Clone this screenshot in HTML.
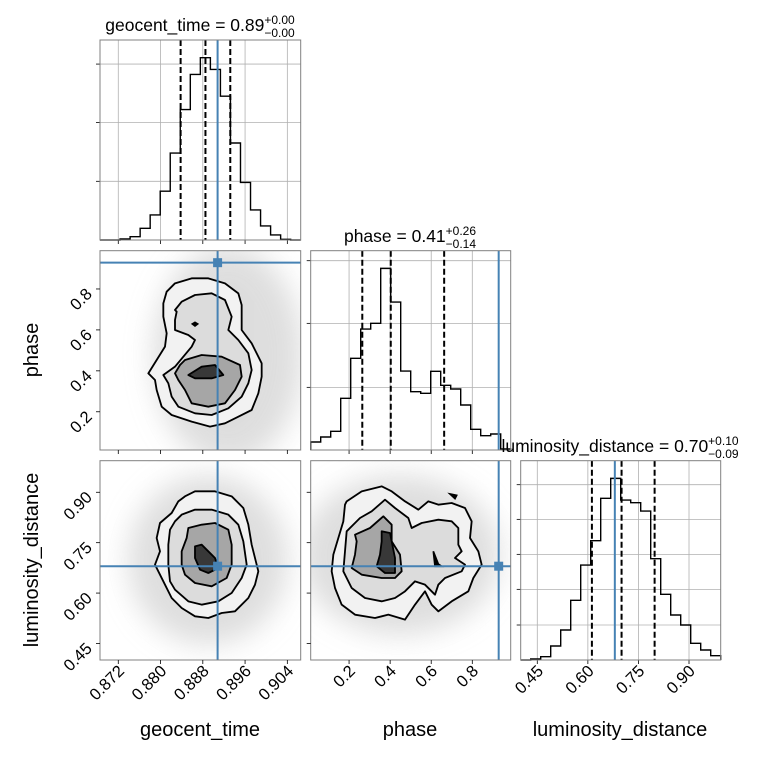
<!DOCTYPE html>
<html><head><meta charset="utf-8"><style>
html,body{margin:0;padding:0;background:#fff;}
svg{display:block;font-family:"Liberation Sans","DejaVu Sans",sans-serif;}
</style></head>
<body>
<svg id="c" width="760" height="760" viewBox="0 0 760 760" xmlns="http://www.w3.org/2000/svg">
<defs>
<filter id="blur" x="-50%" y="-50%" width="200%" height="200%"><feGaussianBlur stdDeviation="14"/></filter>
<clipPath id="clipA"><rect x="100" y="250.7" width="200.7" height="199.3"/></clipPath>
<clipPath id="clipB"><rect x="100" y="460.7" width="200.7" height="199.3"/></clipPath>
<clipPath id="clipC"><rect x="310.7" y="460.7" width="200" height="199.3"/></clipPath>
</defs>
<g id="layer"></g>
</svg>
<script>
// ---- data ----
const geoCounts = [0,0,3,10,35,75,146,260,390,495,545,510,430,290,172,90,42,15,2,0];
const phaseCounts = [24,39,56,155,275,363,380,545,444,237,175,170,236,194,183,135,62,43,48,3];
const lumCounts = [0,3,10,42,90,179,285,358,485,545,480,472,447,304,197,135,105,50,30,13];
const geoTicks = [0.872,0.880,0.888,0.896,0.904];
const phaseTicks = [0.2,0.4,0.6,0.8];
const lumTicks = [0.45,0.60,0.75,0.90];
const geoQuant = [0.8838,0.8885,0.8932];
const phaseQuant = [0.2644,0.403,0.663];
const lumQuant = [0.612,0.700,0.798];
const truths = {geo:0.8908, phase:0.9285, lum:0.680};
const geoHistTicks = [175.5,351,526];
const phaseHistTicks = [188,380,568];
const lumHistTicks = [105,212,317,422,526];

const NS='http://www.w3.org/2000/svg';
const L=document.getElementById('layer');
function el(t,a,p){const e=document.createElementNS(NS,t);for(const k in a)e.setAttribute(k,a[k]);(p||L).appendChild(e);return e;}
const BLUE='#4682b4';
const ranges={geo:[0.86854,0.90653],phase:[0.0132,0.987],lum:[0.4008,0.994]};
const cols={geo:[100,300.7],phase:[310.7,510.7],lum:[520.7,720.7]};
const rows={phase:[250.7,450],lum:[460.7,660]};
const tickSets={geo:geoTicks,phase:phaseTicks,lum:lumTicks};
function sx(v,k){const r=ranges[k],c=cols[k];return c[0]+(v-r[0])/(r[1]-r[0])*(c[1]-c[0]);}
function sy(v,k){const r=ranges[k],w=rows[k];return w[1]-(v-r[0])/(r[1]-r[0])*(w[1]-w[0]);}

function hist(k,counts,top,bottom,hticks,quant,truth,name){
  const x0=cols[k][0],x1=cols[k][1],ymax=598;
  const g=el('g',{});
  
  
  const hy=v=>bottom-v/ymax*(bottom-top);
  tickSets[k].forEach(t=>{const x=sx(t,k);el('line',{x1:x,x2:x,y1:top,y2:bottom,stroke:'#b0b0b0','stroke-width':0.8},g);el('line',{x1:x,x2:x,y1:bottom,y2:bottom+4,stroke:'#000','stroke-width':0.8},g);});
  hticks.forEach(t=>{const y=hy(t);el('line',{x1:x0,x2:x1,y1:y,y2:y,stroke:'#b0b0b0','stroke-width':0.8},g);el('line',{x1:x0-4,x2:x0,y1:y,y2:y,stroke:'#000','stroke-width':0.8},g);});
  const n=counts.length,bw=(x1-x0)/n;
  let d='M'+x0+','+bottom;
  counts.forEach((c,i)=>{const y=hy(c);d+=' L'+(x0+i*bw)+','+y+' L'+(x0+(i+1)*bw)+','+y;});
  d+=' L'+x1+','+bottom;
  const p=el('path',{d:d,fill:'none',stroke:'#000','stroke-width':1.4},g);
  
  
  quant.forEach(q=>{const x=sx(q,k);const ln=el('line',{x1:x,x2:x,y1:top,y2:bottom,stroke:'#000','stroke-width':2,'stroke-dasharray':'6,3'},g);});
  const tx=sx(truth,k);
  const tl=el('line',{x1:tx,x2:tx,y1:top,y2:bottom,stroke:BLUE,'stroke-width':2},g);
  
  
  el('rect',{x:x0,y:top,width:x1-x0,height:bottom-top,fill:'none',stroke:'#808080','stroke-width':1},g);
}
hist('geo',geoCounts,40,240,geoHistTicks,geoQuant,truths.geo,'geocent-time-histogram');
hist('phase',phaseCounts,250.7,450,phaseHistTicks,phaseQuant,truths.phase,'phase-histogram');
hist('lum',lumCounts,460.7,660,lumHistTicks,lumQuant,truths.lum,'luminosity-distance-histogram');

// ---- 2D panels ----
function poly(pts){return 'M'+pts.map(p=>p.join(',')).join(' L')+' Z';}
function panel2d(kx,ky,clip,origin,haze,levels,extra,name){
  const g=el('g',{'clip-path':'url(#'+clip+')'});
  
  
  el('ellipse',{cx:haze[0],cy:haze[1],rx:haze[2],ry:haze[3],fill:'#d0d0d0',opacity:0.7,filter:'url(#blur)'},g);
  const z=el('g',{transform:'translate('+origin[0]+','+origin[1]+') scale(0.33333)'},g);
  const fills=['#f2f2f2','#dcdcdc','#a6a6a6','#383838'];
  levels.forEach((pts,i)=>{const p=el('path',{d:poly(pts),fill:fills[i],stroke:'#000','stroke-width':5.5,'stroke-linejoin':'round'},z);});
  extra.forEach(pts=>el('path',{d:poly(pts),fill:'#000',stroke:'#000','stroke-width':5},z));
  const x0=cols[kx][0],x1=cols[kx][1],y0=rows[ky][0],y1=rows[ky][1];
  const tx=sx(truths[kx],kx),ty=sy(truths[ky],ky);
  el('line',{x1:tx,x2:tx,y1:y0,y2:y1,stroke:BLUE,'stroke-width':2},g);
  el('line',{x1:x0,x2:x1,y1:ty,y2:ty,stroke:BLUE,'stroke-width':2},g);
  const m=el('rect',{x:tx-4.5,y:ty-4.5,width:9,height:9,fill:BLUE},g);
  
  
  const f=el('g',{});
  el('rect',{x:x0,y:y0,width:x1-x0,height:y1-y0,fill:'none',stroke:'#808080','stroke-width':1},f);
  tickSets[kx].forEach(t=>{const x=sx(t,kx);el('line',{x1:x,x2:x,y1:y1,y2:y1+4,stroke:'#000','stroke-width':0.8},f);});
  tickSets[ky].forEach(t=>{const y=sy(t,ky);el('line',{x1:x0-4,x2:x0,y1:y,y2:y,stroke:'#000','stroke-width':0.8},f);});
}
panel2d('geo','phase','clipA',[95,250],[228,355,75,110],[
 [[215,125],[240,100],[290,85],[340,85],[390,100],[430,130],[440,165],[440,240],[470,280],[500,340],[500,380],[490,430],[470,480],[430,500],[390,520],[345,530],[290,515],[230,495],[200,470],[185,420],[180,390],[160,370],[185,330],[210,290],[215,250],[205,200],[205,160]],
 [[240,180],[260,155],[300,135],[350,130],[390,150],[410,200],[400,240],[430,270],[460,310],[470,360],[460,400],[440,440],[400,475],[350,495],[300,490],[250,470],[230,440],[220,400],[205,375],[240,350],[290,290],[300,270],[280,255],[240,240],[240,210],[245,185]],
 [[270,330],[320,315],[380,320],[435,345],[440,380],[420,420],[390,460],[340,470],[290,460],[270,420],[250,390],[240,370],[255,345]],
 [[280,375],[320,350],[360,345],[385,375],[350,385],[300,385]]
],[[[292,222],[300,217],[308,222],[300,228]]],'phase-vs-geocent-time');
panel2d('geo','lum','clipB',[95,458],[208,560,80,85],[
 [[270,115],[300,100],[360,100],[410,115],[445,150],[460,200],[470,260],[490,340],[480,380],[460,420],[420,460],[380,465],[340,480],[300,475],[260,450],[230,420],[210,380],[180,320],[195,280],[185,240],[195,195],[230,165],[250,130]],
 [[260,170],[300,155],[350,155],[400,170],[430,200],[445,250],[455,320],[440,360],[410,405],[370,430],[320,440],[280,430],[240,395],[225,370],[220,320],[220,260],[225,215],[240,190]],
 [[280,210],[320,200],[360,195],[400,215],[410,260],[410,320],[395,360],[350,385],[300,375],[270,350],[260,320],[260,280],[275,240]],
 [[300,265],[320,260],[350,290],[360,300],[370,330],[340,345],[315,335],[300,300]]
],[],'luminosity-distance-vs-geocent-time');
panel2d('phase','lum','clipC',[305,458],[400,555,100,80],[
 [[125,130],[170,100],[230,85],[260,100],[300,130],[340,155],[370,130],[400,140],[440,135],[480,150],[500,190],[495,240],[520,280],[530,320],[505,360],[490,400],[440,430],[400,460],[380,440],[360,400],[330,440],[300,485],[250,470],[210,480],[150,470],[110,440],[90,390],[80,340],[85,290],[100,240],[115,190],[120,140]],
 [[165,180],[200,160],[240,125],[270,150],[310,180],[320,210],[350,195],[400,185],[440,190],[460,210],[460,260],[470,280],[450,300],[480,320],[470,340],[420,360],[400,380],[390,410],[360,380],[330,370],[300,400],[270,420],[230,430],[180,420],[140,390],[115,340],[120,280],[125,220],[150,195]],
 [[150,230],[195,210],[235,175],[260,200],[260,250],[285,290],[290,340],[270,360],[230,360],[170,350],[140,330],[150,290],[155,250]],
 [[230,220],[255,225],[270,300],[270,345],[240,345],[215,325],[225,290],[230,250]]
],[[[435,108],[455,112],[450,122]],[[385,280],[400,318],[410,325],[390,325]]],'luminosity-distance-vs-phase');

// ---- tick labels ----
function tickLabelX(k,ticks,yBase,fmt){
  ticks.forEach(t=>{const x=sx(t,k);const e=el('text',{x:0,y:0,'font-size':16.5,'text-anchor':'end',transform:'translate('+(x+7)+','+(yBase+8)+') rotate(-45)'});e.textContent=fmt(t);});
}
function tickLabelY(k,ticks,fmt){
  ticks.forEach(t=>{const y=sy(t,k);const e=el('text',{x:0,y:0,'font-size':16.5,'text-anchor':'end',transform:'translate(93,'+(y+6)+') rotate(-45)'});e.textContent=fmt(t);});
}
tickLabelX('geo',geoTicks,664,t=>t.toFixed(3));
tickLabelX('phase',phaseTicks,664,t=>t.toFixed(1));
tickLabelX('lum',lumTicks,664,t=>t.toFixed(2));
tickLabelY('phase',phaseTicks,t=>t.toFixed(1));
tickLabelY('lum',lumTicks,t=>t.toFixed(2));

// ---- axis labels ----
function lab(txt,x,y,rot,name){const e=el('text',{x:0,y:0,'font-size':20,'text-anchor':'middle',transform:'translate('+x+','+y+')'+(rot?' rotate(-90)':'')});e.textContent=txt;}
lab('geocent_time',200,736,false,'x-axis-title-geocent-time');
lab('phase',410,736,false,'x-axis-title-phase');
lab('luminosity_distance',620,736,false,'x-axis-title-luminosity-distance');
lab('phase',38,350,true,'y-axis-title-phase');
lab('luminosity_distance',38,560,true,'y-axis-title-luminosity-distance');

// ---- titles ----
function title(main,up,down,cx,y,name){
  const e=el('text',{x:cx,y:y,'font-size':17.5,'text-anchor':'middle'});
  
  
  const a=el('tspan',{},e);a.textContent=main;
  const b=el('tspan',{'font-size':12,dy:-7},e);b.textContent=up;
  const w=b.getComputedTextLength?b.getComputedTextLength():20;
  const c=el('tspan',{'font-size':12,dy:13,dx:-w},e);c.textContent=down;
}
title('geocent_time = 0.89','+0.00','\u22120.00',200,31,'title-geocent-time');
title('phase = 0.41','+0.26','\u22120.14',410,242,'title-phase');
title('luminosity_distance = 0.70','+0.10','\u22120.09',620,452,'title-luminosity-distance');
</script>
</body></html>
